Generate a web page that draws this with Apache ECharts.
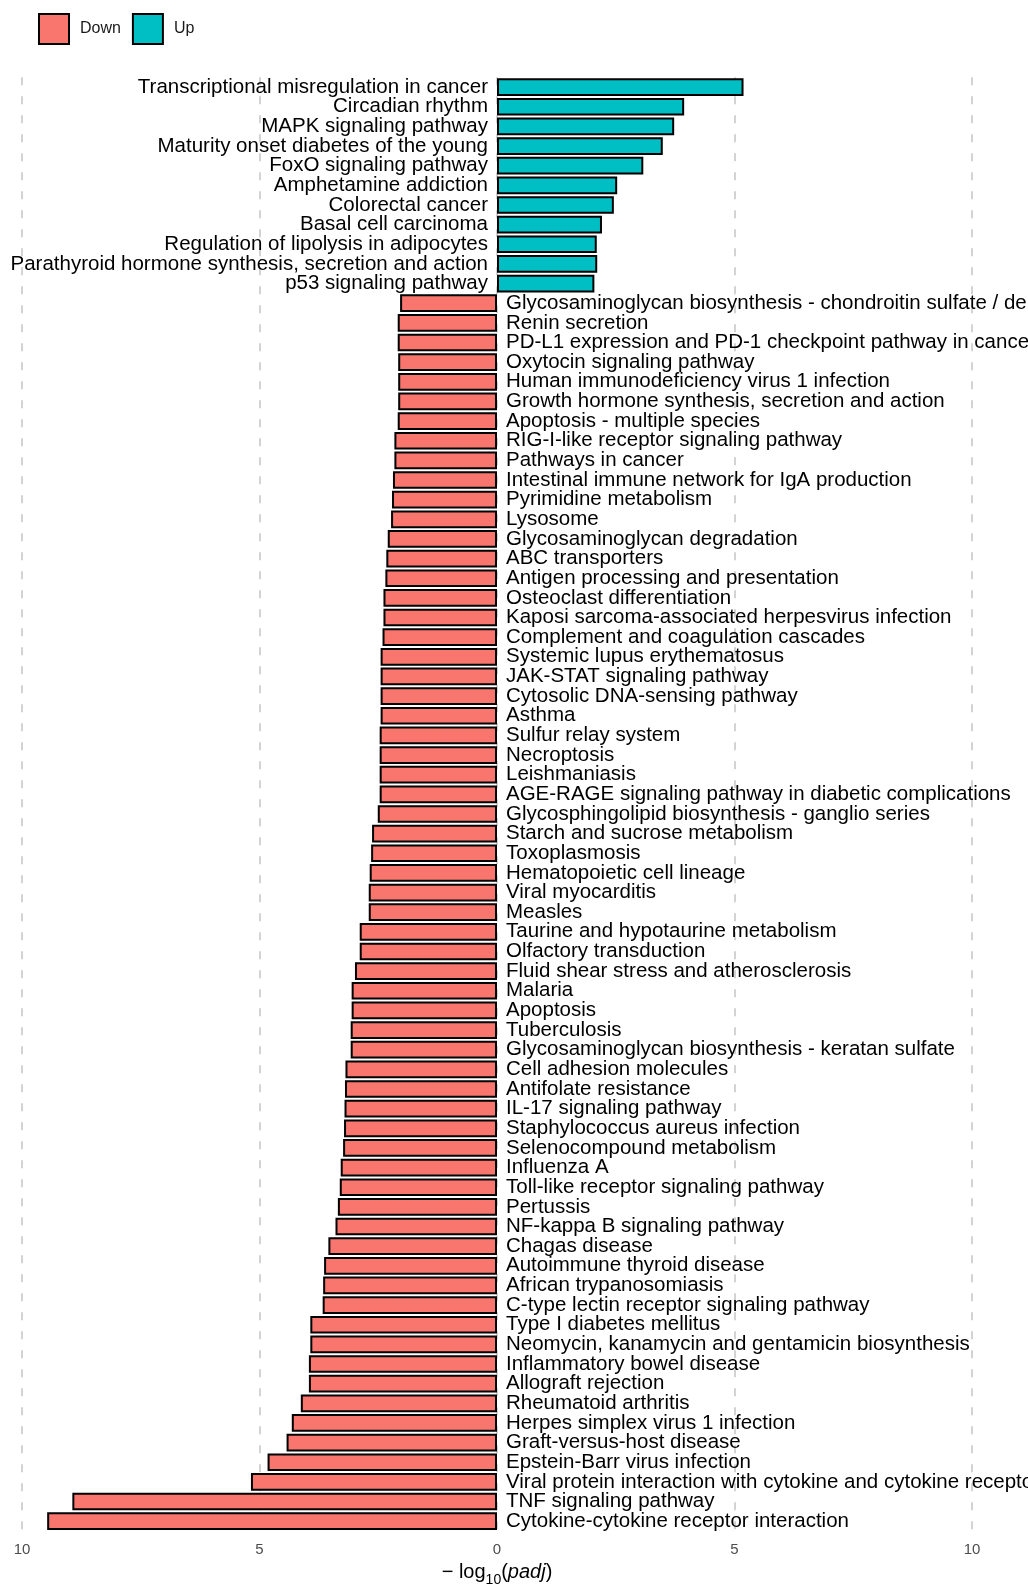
<!DOCTYPE html>
<html>
<head>
<meta charset="utf-8">
<script src="https://cdn.jsdelivr.net/npm/echarts@6/dist/echarts.min.js"></script>
<style>
  html, body { margin: 0; padding: 0; background: #fff; }
  #keggBar { width: 1028px; height: 1584px; }
</style>
</head>
<body>
<div id="keggBar"></div>
<script>
// pathways, top to bottom
var upPathways = [
  'Transcriptional misregulation in cancer',
  'Circadian rhythm',
  'MAPK signaling pathway',
  'Maturity onset diabetes of the young',
  'FoxO signaling pathway',
  'Amphetamine addiction',
  'Colorectal cancer',
  'Basal cell carcinoma',
  'Regulation of lipolysis in adipocytes',
  'Parathyroid hormone synthesis, secretion and action',
  'p53 signaling pathway'
];
var upValues = [5.19, 3.94, 3.73, 3.49, 3.08, 2.53, 2.46, 2.21, 2.10, 2.11, 2.05];

var downPathways = [
  'Glycosaminoglycan biosynthesis - chondroitin sulfate / dermatan sulfate',
  'Renin secretion',
  'PD-L1 expression and PD-1 checkpoint pathway in cancer',
  'Oxytocin signaling pathway',
  'Human immunodeficiency virus 1 infection',
  'Growth hormone synthesis, secretion and action',
  'Apoptosis - multiple species',
  'RIG-I-like receptor signaling pathway',
  'Pathways in cancer',
  'Intestinal immune network for IgA production',
  'Pyrimidine metabolism',
  'Lysosome',
  'Glycosaminoglycan degradation',
  'ABC transporters',
  'Antigen processing and presentation',
  'Osteoclast differentiation',
  'Kaposi sarcoma-associated herpesvirus infection',
  'Complement and coagulation cascades',
  'Systemic lupus erythematosus',
  'JAK-STAT signaling pathway',
  'Cytosolic DNA-sensing pathway',
  'Asthma',
  'Sulfur relay system',
  'Necroptosis',
  'Leishmaniasis',
  'AGE-RAGE signaling pathway in diabetic complications',
  'Glycosphingolipid biosynthesis - ganglio series',
  'Starch and sucrose metabolism',
  'Toxoplasmosis',
  'Hematopoietic cell lineage',
  'Viral myocarditis',
  'Measles',
  'Taurine and hypotaurine metabolism',
  'Olfactory transduction',
  'Fluid shear stress and atherosclerosis',
  'Malaria',
  'Apoptosis',
  'Tuberculosis',
  'Glycosaminoglycan biosynthesis - keratan sulfate',
  'Cell adhesion molecules',
  'Antifolate resistance',
  'IL-17 signaling pathway',
  'Staphylococcus aureus infection',
  'Selenocompound metabolism',
  'Influenza A',
  'Toll-like receptor signaling pathway',
  'Pertussis',
  'NF-kappa B signaling pathway',
  'Chagas disease',
  'Autoimmune thyroid disease',
  'African trypanosomiasis',
  'C-type lectin receptor signaling pathway',
  'Type I diabetes mellitus',
  'Neomycin, kanamycin and gentamicin biosynthesis',
  'Inflammatory bowel disease',
  'Allograft rejection',
  'Rheumatoid arthritis',
  'Herpes simplex virus 1 infection',
  'Graft-versus-host disease',
  'Epstein-Barr virus infection',
  'Viral protein interaction with cytokine and cytokine receptor',
  'TNF signaling pathway',
  'Cytokine-cytokine receptor interaction'
];
// -log10(padj) for the down-regulated set (drawn to the left)
var downValues = [
  2.04, 2.09, 2.09, 2.08, 2.08, 2.08, 2.09, 2.16, 2.16, 2.19,
  2.21, 2.23, 2.30, 2.33, 2.35, 2.39, 2.39, 2.41, 2.45, 2.45,
  2.45, 2.45, 2.47, 2.47, 2.47, 2.47, 2.51, 2.63, 2.65, 2.68,
  2.70, 2.70, 2.89, 2.89, 2.99, 3.06, 3.06, 3.08, 3.08, 3.19,
  3.20, 3.21, 3.22, 3.24, 3.29, 3.31, 3.35, 3.40, 3.55, 3.64,
  3.66, 3.67, 3.93, 3.93, 3.96, 3.96, 4.13, 4.32, 4.43, 4.83,
  5.18, 8.94, 9.47
];
var xTicks = [-10, -5, 0, 5, 10];

var downColor = '#F8766D', upColor = '#00BFC4';
var fontFam = '"Liberation Sans", Arial, Helvetica, sans-serif';

var categories = upPathways.concat(downPathways);
var upData = [], downData = [];
for (var i = 0; i < categories.length; i++) {
  if (i < upPathways.length) {
    upData.push(upValues[i]);
    downData.push('-');
  } else {
    upData.push('-');
    downData.push(-downValues[i - upPathways.length]);
  }
}

var dom = document.getElementById('keggBar');
var myChart = echarts.init(dom, null, { renderer: 'canvas' });

var option = {
  animation: false,
  backgroundColor: '#ffffff',
  textStyle: { fontFamily: fontFam },
  legend: {
    left: 38,
    top: 13,
    padding: 0,
    icon: 'rect',
    itemWidth: 30,
    itemHeight: 30,
    itemGap: 11,
    data: ['Down', 'Up'],
    textStyle: { fontSize: 16, color: '#1a1a1a', padding: [0, 0, 0, 6], fontFamily: fontFam },
    itemStyle: { borderColor: '#000', borderWidth: 2 }
  },
  grid: {
    left: 22,
    right: 56,
    top: 77.3,
    height: 1453.7,
    containLabel: false,
    outerBoundsMode: 'none'
  },
  xAxis: {
    type: 'value',
    min: xTicks[0],
    max: xTicks[xTicks.length - 1],
    interval: 5,
    axisLine: { show: false },
    axisTick: { show: false },
    axisLabel: {
      color: '#4d4d4d',
      fontSize: 15,
      margin: 11,
      formatter: function (v) { return Math.abs(v); }
    },
    splitLine: {
      show: true,
      lineStyle: { color: '#d3d3d3', width: 2, type: [8, 11] }
    },
    name: '{a|− log}{s|10}{a|(}{i|padj}{a|)}',
    nameLocation: 'middle',
    nameGap: 29,
    nameTextStyle: {
      rich: {
        a: { fontSize: 20, color: '#000', fontFamily: fontFam, verticalAlign: 'bottom', lineHeight: 22 },
        i: { fontSize: 20, color: '#000', fontFamily: fontFam, fontStyle: 'italic', verticalAlign: 'bottom', lineHeight: 22 },
        s: { fontSize: 14, color: '#000', fontFamily: fontFam, verticalAlign: 'bottom', lineHeight: 22, padding: [0, 0, -5, 0] }
      }
    }
  },
  yAxis: {
    type: 'category',
    inverse: true,
    data: categories,
    axisLine: { show: false },
    axisTick: { show: false },
    axisLabel: { show: false },
    splitLine: { show: false }
  },
  series: [
    {
      name: 'Down',
      type: 'bar',
      stack: 'total',
      barWidth: '90%',
      data: downData,
      itemStyle: { color: downColor, borderColor: '#000', borderWidth: 2 },
      label: {
        show: true,
        position: 'right',
        distance: 9,
        formatter: '{b}',
        color: '#000',
        fontSize: 20.5,
        fontFamily: fontFam
      }
    },
    {
      name: 'Up',
      type: 'bar',
      stack: 'total',
      barWidth: '90%',
      data: upData,
      itemStyle: { color: upColor, borderColor: '#000', borderWidth: 2 },
      label: {
        show: true,
        position: 'left',
        distance: 9,
        formatter: '{b}',
        color: '#000',
        fontSize: 20.5,
        fontFamily: fontFam
      }
    }
  ]
};

if (option && typeof option === 'object') {
  myChart.setOption(option);
}
window.addEventListener('resize', myChart.resize);
</script>
</body>
</html>
